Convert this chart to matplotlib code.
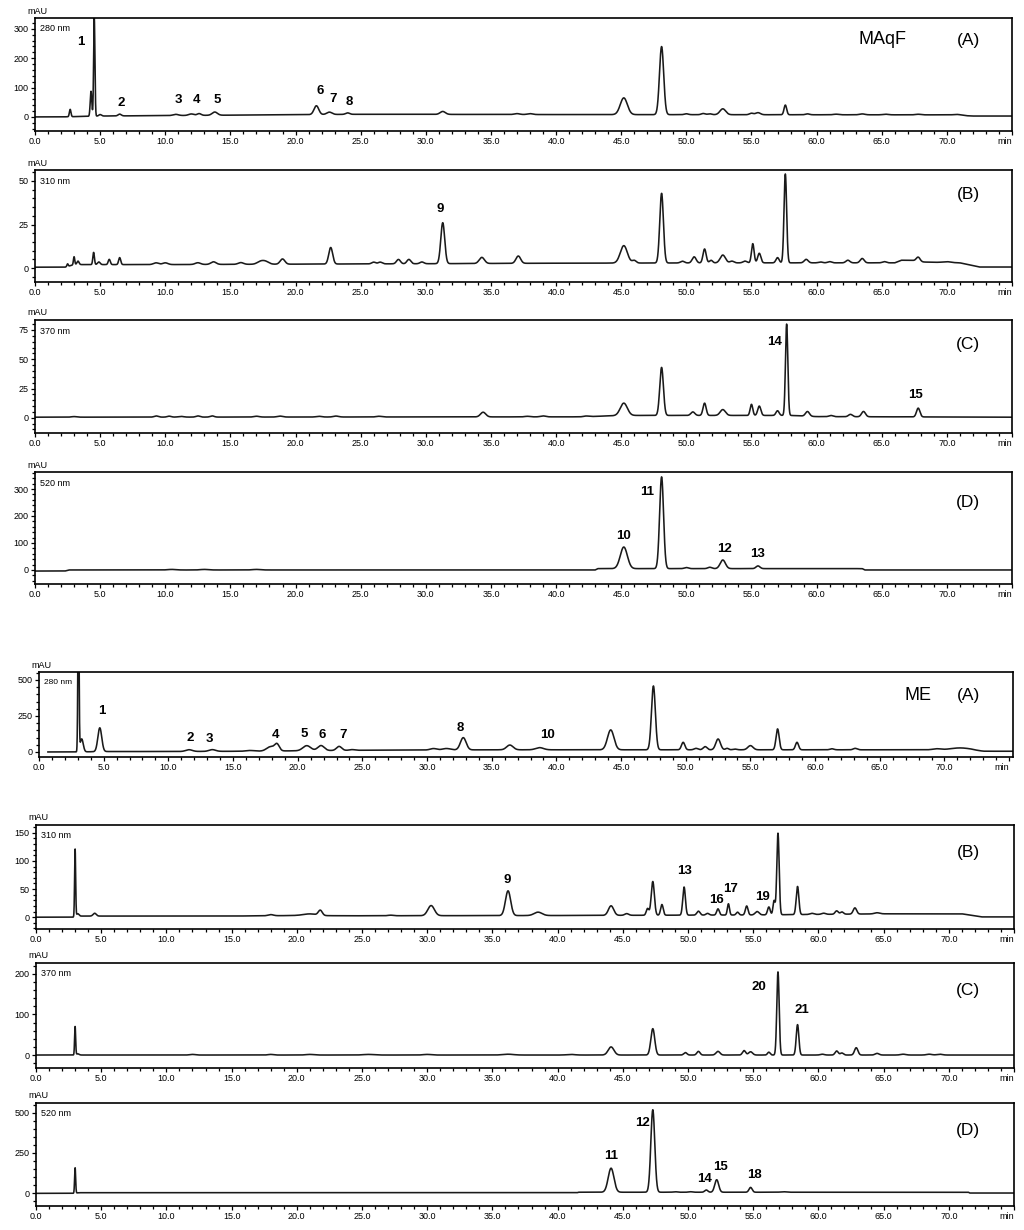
import numpy as np
import matplotlib.pyplot as plt
from matplotlib.ticker import MultipleLocator

plt.rcParams['font.family'] = ['Liberation Sans', 'DejaVu Sans']

# ---- MAqF chromatograms: peaks = (retention time min, height above baseline mAU, sigma min)
maqf_280_peaks = [(2.7, 25, 0.06), (4.3, 85, 0.06), (4.55, 335, 0.05), (5.0, 5, 0.1), (6.5, 6, 0.12),
                  (10.8, 4, 0.2), (12.0, 5, 0.2), (12.6, 6, 0.15), (13.8, 11, 0.2), (21.6, 30, 0.18),
                  (22.6, 8, 0.2), (24.0, 5, 0.15), (31.3, 10, 0.2), (37.0, 3, 0.2), (38.0, 3, 0.2),
                  (45.2, 57, 0.27), (48.1, 232, 0.16), (50.0, 3, 0.15), (51.3, 4, 0.15), (51.8, 3, 0.15),
                  (52.8, 20, 0.22), (55.0, 5, 0.15), (55.5, 7, 0.18), (57.6, 33, 0.1), (59.3, 3, 0.15),
                  (61.5, 2, 0.2), (63.5, 3, 0.2), (65.3, 2, 0.2), (67.8, 2, 0.2), (70.8, 3, 0.3)]
maqf_280_base = [(0, 0), (2, 0), (5, 3), (15, 6), (25, 9), (40, 8), (70, 7), (72, 3), (75, 3)]
maqf_280_labels = [("1", 3.5, 256), ("2", 6.6, 48), ("3", 11.0, 58), ("4", 12.4, 58), ("5", 14.0, 58),
                   ("6", 21.9, 89), ("7", 22.9, 61), ("8", 24.1, 51)]

maqf_310_peaks = [(2.5, 1.5, 0.05), (3.0, 4.5, 0.05), (3.3, 2, 0.08), (4.5, 7, 0.06), (4.9, 1.5, 0.1),
                  (5.7, 3, 0.08), (6.5, 4, 0.08), (9.3, 1, 0.2), (10.0, 1, 0.2), (12.5, 1, 0.2),
                  (13.7, 1.5, 0.2), (15.8, 1, 0.2), (17.3, 1.5, 0.25), (17.7, 1.5, 0.25), (19.0, 3, 0.18),
                  (22.7, 9.5, 0.15), (26.0, 1, 0.15), (26.5, 1, 0.15), (27.9, 2.5, 0.15), (28.7, 2.5, 0.15),
                  (29.7, 1, 0.15), (31.3, 23.5, 0.15), (34.3, 3.5, 0.2), (37.1, 4.2, 0.18), (45.2, 10, 0.27),
                  (46.0, 1.5, 0.15), (48.1, 40, 0.14), (49.7, 1, 0.15), (50.6, 3.5, 0.15), (51.4, 8, 0.12),
                  (51.9, 1.5, 0.12), (52.8, 4.5, 0.2), (53.5, 1, 0.15), (54.5, 1, 0.15), (55.1, 11, 0.1),
                  (55.6, 5.5, 0.12), (57.0, 3, 0.12), (57.6, 51, 0.1), (59.2, 2, 0.15), (60.3, 0.5, 0.15),
                  (61.0, 0.7, 0.15), (62.4, 1.5, 0.15), (63.5, 2.5, 0.15), (65.2, 0.7, 0.15),
                  (67.8, 2.5, 0.15), (70.0, 0.5, 0.3)]
maqf_310_base = [(0, 0.5), (2.3, 0.5), (3, 2), (10, 2), (30, 2.5), (40, 2.8), (55, 3), (66, 3),
                 (66.5, 4.5), (67.3, 4.5), (68, 3.5), (71, 3), (72.5, 0.6), (75, 0.6)]
maqf_310_labels = [("9", 31.1, 34)]

maqf_370_peaks = [(3.0, 0.5, 0.2), (9.3, 1, 0.15), (10.3, 0.8, 0.15), (11.2, 0.6, 0.2), (12.5, 1, 0.15),
                  (13.6, 1, 0.15), (17.0, 0.7, 0.2), (18.8, 0.8, 0.2), (21.8, 0.6, 0.2), (23.1, 0.8, 0.2),
                  (26.4, 0.6, 0.2), (34.4, 4, 0.2), (37.8, 0.5, 0.2), (39.0, 0.8, 0.2), (42.3, 0.6, 0.2),
                  (45.2, 10.5, 0.27), (48.1, 41, 0.14), (50.5, 3, 0.15), (51.4, 10.5, 0.12),
                  (52.8, 5, 0.2), (55.0, 9.5, 0.1), (55.6, 8, 0.12), (57.0, 4, 0.12), (57.7, 78, 0.09),
                  (59.3, 4, 0.15), (61.1, 1, 0.15), (62.6, 2, 0.15), (63.6, 4.5, 0.15), (67.8, 7.5, 0.13)]
maqf_370_base = [(0, 0.5), (42, 0.8), (45, 2), (58, 2), (60, 1), (75, 0.5)]
maqf_370_labels = [("14", 56.8, 65), ("15", 67.6, 19.6)]

maqf_520_peaks = [(10.5, 2, 0.3), (13.0, 2, 0.3), (17.0, 2, 0.3), (45.2, 80, 0.27), (48.1, 340, 0.15),
                  (50.0, 4, 0.15), (51.8, 5, 0.15), (52.8, 32, 0.2), (55.5, 10, 0.15)]
maqf_520_base = [(0, -4), (2.3, -4), (2.6, 0), (43, 0), (43.2, 5), (63.5, 5), (63.7, 0), (75, 0)]
maqf_520_labels = [("10", 45.2, 126), ("11", 47.0, 288), ("12", 52.9, 78), ("13", 55.5, 58)]

# ---- ME chromatograms
me_280_peaks = [(3.05, 1100, 0.045), (3.3, 90, 0.12), (4.7, 165, 0.15), (11.6, 12, 0.25), (13.4, 12, 0.25),
                (16.3, 5, 0.3), (17.9, 30, 0.3), (18.4, 45, 0.18), (20.7, 35, 0.3), (21.8, 35, 0.25),
                (23.2, 28, 0.2), (24.2, 5, 0.2), (30.5, 10, 0.25), (31.5, 10, 0.3), (32.8, 85, 0.22),
                (36.4, 33, 0.25), (38.7, 15, 0.3), (44.2, 138, 0.25), (47.5, 443, 0.15), (49.8, 52, 0.13),
                (50.8, 10, 0.15), (51.5, 22, 0.15), (52.5, 75, 0.18), (53.2, 10, 0.12), (53.8, 5, 0.15),
                (55.0, 29, 0.2), (57.1, 145, 0.12), (58.6, 52, 0.12), (61.3, 7, 0.15), (63.1, 10, 0.15),
                (69.4, 7, 0.3), (71.2, 13, 0.7)]
me_280_base = [(0, 0), (2.9, 0), (5, 3), (10, 3), (16, 5), (25, 12), (35, 15), (72, 15), (73, 5), (76, 5)]
me_280_labels = [("1", 4.85, 282), ("2", 11.7, 94), ("3", 13.2, 87), ("4", 18.3, 117), ("5", 20.5, 128),
                 ("6", 21.9, 117), ("7", 23.5, 117), ("8", 32.6, 163), ("10", 39.3, 117)]

me_310_peaks = [(3.0, 120, 0.04), (3.2, 5, 0.1), (4.5, 5, 0.12), (18.0, 2, 0.2), (21.0, 3, 0.5),
                (21.8, 9, 0.15), (27.2, 1, 0.2), (30.3, 18, 0.25), (36.2, 44, 0.2), (38.5, 6, 0.3),
                (44.1, 17, 0.2), (45.3, 3, 0.15), (46.9, 12, 0.1), (47.3, 60, 0.12), (48.0, 19, 0.1),
                (49.7, 50, 0.1), (50.8, 7, 0.12), (51.5, 3, 0.12), (52.3, 11, 0.1), (53.1, 20, 0.08),
                (53.8, 5, 0.1), (54.5, 16, 0.1), (55.3, 6, 0.15), (56.2, 14, 0.1), (56.6, 25, 0.08),
                (56.9, 145, 0.09), (58.4, 50, 0.1), (59.5, 2, 0.15), (60.4, 2, 0.15), (61.4, 6, 0.12),
                (61.8, 4, 0.12), (62.8, 11, 0.13), (64.5, 2, 0.2)]
me_310_base = [(0, 0), (2.8, 0), (3.5, 2), (15, 2), (20, 3), (24, 2.5), (40, 3), (55, 4), (65, 6),
               (71, 6), (72.5, 0.5), (75, 0.5)]
me_310_labels = [("9", 36.1, 67), ("13", 49.7, 82), ("16", 52.2, 30), ("17", 53.3, 50), ("19", 55.7, 36)]

me_370_peaks = [(3.0, 70, 0.04), (3.2, 3, 0.1), (12, 1.5, 0.2), (18, 1.5, 0.2), (21, 1.5, 0.3),
                (25.5, 1.5, 0.4), (30, 1.5, 0.3), (36.2, 2, 0.4), (41, 1.5, 0.3), (44.1, 20, 0.22),
                (47.3, 65, 0.15), (49.8, 6, 0.12), (50.8, 9, 0.12), (52.3, 9, 0.15), (54.3, 11, 0.12),
                (54.8, 8, 0.15), (56.2, 7, 0.1), (56.9, 205, 0.09), (58.4, 75, 0.1), (60.3, 2, 0.15),
                (61.4, 10, 0.12), (61.8, 5, 0.12), (62.9, 18, 0.13), (64.5, 4, 0.15), (66.5, 2, 0.2),
                (68.5, 2, 0.2), (69.3, 2, 0.2)]
me_370_base = [(0, 0), (75, 0)]
me_370_labels = [("20", 55.4, 169), ("21", 58.7, 110)]

me_520_peaks = [(3.0, 158, 0.04), (44.1, 150, 0.22), (47.3, 515, 0.15), (49.0, 3, 0.15), (50.2, 3, 0.15),
                (51.4, 14, 0.12), (52.2, 78, 0.15), (54.8, 30, 0.12), (57.3, 3, 0.2)]
me_520_base = [(0, -2), (2.8, -2), (3.3, 2), (41.5, 2), (41.6, 5), (71.5, 5), (71.6, 0), (75, 0)]
me_520_labels = [("11", 44.1, 231), ("12", 46.5, 435), ("14", 51.3, 85), ("15", 52.5, 160), ("18", 55.1, 112)]

W, H = 1024, 1230
fig = plt.figure(figsize=(W / 100, H / 100), dpi=100)


def trace(t, peaks, base):
    y = np.interp(t, [b[0] for b in base], [b[1] for b in base])
    for rt, h, s in peaks:
        y = y + h * np.exp(-0.5 * ((t - rt) / s) ** 2)
    return y


# box in pixels (left, top, right, bottom), xlim, ylim, y major/minor, data, text
panels = [
    ((35, 18, 1012, 131), (0, 75), (-48, 337), 100, 20, maqf_280_peaks, maqf_280_base, maqf_280_labels,
     "280 nm", "(A)", "MAqF", 22),
    ((35, 170, 1012, 282), (0, 75), (-8, 56.3), 25, 5, maqf_310_peaks, maqf_310_base, maqf_310_labels,
     "310 nm", "(B)", None, 25),
    ((35, 320, 1012, 433), (0, 75), (-13, 83.5), 25, 5, maqf_370_peaks, maqf_370_base, maqf_370_labels,
     "370 nm", "(C)", None, 25),
    ((35, 472, 1012, 584), (0, 75), (-52, 363), 100, 20, maqf_520_peaks, maqf_520_base, maqf_520_labels,
     "520 nm", "(D)", None, 31),
    ((39, 672, 1013, 757), (0.69, 75.3), (-35, 555), 250, 50, me_280_peaks, me_280_base, me_280_labels,
     "280 nm", "(A)", "ME", 24),
    ((36, 825, 1014, 929), (0, 75), (-21, 164), 50, 10, me_310_peaks, me_310_base, me_310_labels,
     "310 nm", "(B)", None, 28),
    ((36, 963, 1014, 1068), (0, 75), (-32, 227), 100, 20, me_370_peaks, me_370_base, me_370_labels,
     "370 nm", "(C)", None, 27),
    ((36, 1103, 1014, 1206), (0, 75), (-81, 562), 250, 50, me_520_peaks, me_520_base, me_520_labels,
     "520 nm", "(D)", None, 27),
]

xt = np.arange(0, 76, 5)
xtl = [f"{v:.1f}" for v in xt[:-1]] + ["min"]

for (l, t, r, b), xlim, ylim, ymaj, ymin, peaks, base, labels, nm, letter, sample, dy in panels:
    ax = fig.add_axes([l / W, 1 - b / H, (r - l) / W, (b - t) / H])
    tt = np.linspace(xlim[0], xlim[1], 15000)
    ax.plot(tt, trace(tt, peaks, base), color='#1a1a1a', lw=1.15)
    ax.set_xlim(*xlim)
    ax.set_ylim(*ylim)
    ax.set_xticks(xt)
    lbls = ax.set_xticklabels(xtl)
    lbls[-1].set_ha('right')
    ax.xaxis.set_minor_locator(MultipleLocator(1))
    ax.yaxis.set_major_locator(MultipleLocator(ymaj))
    ax.yaxis.set_minor_locator(MultipleLocator(ymin))
    ax.set_yticklabels([f"{v:g}" if v >= 0 else "" for v in ax.get_yticks()])
    ax.tick_params(which='both', direction='out', length=3, width=0.9, labelsize=6.5, pad=1.5)
    ax.tick_params(which='minor', length=2)
    for s in ax.spines.values():
        s.set_linewidth(1.2)
    for txt, x, y in labels:
        ax.text(x, y, txt, ha='center', va='center', fontsize=9.5, fontweight='bold')
    ax.annotate(nm, xy=(0, 1), xycoords='axes fraction', xytext=(5, -11), textcoords='offset pixels',
                fontsize=6 if sample == "ME" else 6.5, va='center', ha='left')
    fig.text((l + 2) / W, 1 - (t - 7) / H, "mAU", fontsize=6.5, ha='center', va='center')
    fig.text(968 / W, 1 - (t + dy) / H, letter, fontsize=12.5, ha='center', va='center')
    if sample:
        sx = 882 if sample == "MAqF" else 918
        fig.text(sx / W, 1 - (t + dy) / H, sample, fontsize=13, ha='center', va='center')

fig.savefig("out.png", dpi=100)
